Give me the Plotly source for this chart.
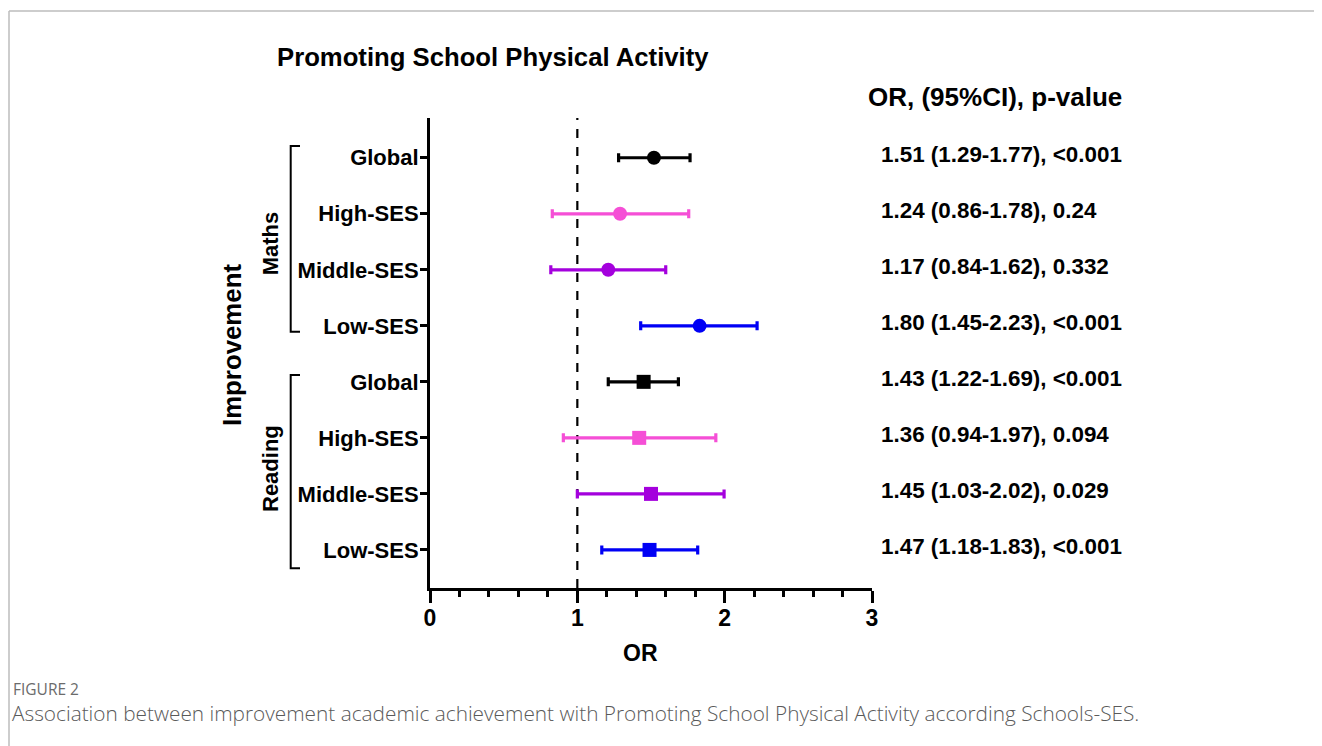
import plotly.graph_objects as go

# ---- data ----
categories = ["Global", "High-SES", "Middle-SES", "Low-SES",
              "Global", "High-SES", "Middle-SES", "Low-SES"]
groups = ["Maths", "Maths", "Maths", "Maths",
          "Reading", "Reading", "Reading", "Reading"]
or_plot = [1.52, 1.29, 1.21, 1.83, 1.45, 1.42, 1.50, 1.49]
ci_low = [1.28, 0.83, 0.82, 1.43, 1.21, 0.905, 1.00, 1.166]
ci_high = [1.765, 1.756, 1.60, 2.22, 1.686, 1.94, 1.996, 1.817]
colors = ["#000000", "#F54FD6", "#A400DD", "#0000F5",
          "#000000", "#F54FD6", "#A400DD", "#0000F5"]
symbols = ["circle"] * 4 + ["square"] * 4
result_text = ["1.51 (1.29-1.77), <0.001", "1.24 (0.86-1.78), 0.24",
               "1.17 (0.84-1.62), 0.332", "1.80 (1.45-2.23), <0.001",
               "1.43 (1.22-1.69), <0.001", "1.36 (0.94-1.97), 0.094",
               "1.45 (1.03-2.02), 0.029", "1.47 (1.18-1.83), <0.001"]
x_ticks = [0, 1, 2, 3]

FONT = "Liberation Sans, Arial, sans-serif"
CAP_FONT = "Open Sans, sans-serif"
OFF = 8  # page body margin
SW, SH = 1322, 746  # screen size
W, H = SW - OFF, SH - OFF
L, R, T, B = 430, 872, 118, 588  # plot area in screen pixels


def px(x):
    return (x - L) / (R - L)


def py(y):
    return (B - y) / (B - T)


fig = go.Figure()
for i in range(len(categories)):
    fig.add_trace(go.Scatter(
        x=[or_plot[i]], y=[i], mode="markers",
        marker=dict(color=colors[i], size=14, symbol=symbols[i],
                    line=dict(width=0)),
        error_x=dict(type="data", symmetric=False,
                     array=[ci_high[i] - or_plot[i]],
                     arrayminus=[or_plot[i] - ci_low[i]],
                     color=colors[i], thickness=3.2, width=4.5),
        showlegend=False, cliponaxis=False,
    ))

shapes = []
shapes.append(dict(type="line", xref="x", yref="paper", x0=1, x1=1, y0=0, y1=1,
                   line=dict(color="black", width=2.2, dash="dash"), layer="below"))
for (y0, y1) in [(146, 331.7), (375, 568.3)]:
    xb, xs = px(290.7), px(300)
    shapes.append(dict(type="path", xref="paper", yref="paper",
                       path=f"M {xs} {py(y0)} L {xb} {py(y0)} L {xb} {py(y1)} L {xs} {py(y1)}",
                       line=dict(color="black", width=2)))
shapes.append(dict(type="line", xref="paper", yref="paper",
                   x0=px(9), x1=px(1330), y0=py(11), y1=py(11),
                   line=dict(color="#bdbdbd", width=1.5)))
shapes.append(dict(type="line", xref="paper", yref="paper",
                   x0=px(9), x1=px(9), y0=py(11), y1=py(760),
                   line=dict(color="#bdbdbd", width=1.5)))

ann = []
for i, t in enumerate(result_text):
    ann.append(dict(text=f"<b>{t}</b>", xref="paper", yref="y", x=px(879), y=i,
                    yshift=3, xanchor="left", yanchor="middle", showarrow=False,
                    font=dict(family=FONT, size=22.4, color="black")))
ann.append(dict(text="<b>Promoting School Physical Activity</b>", xref="paper", yref="paper",
                x=px(492.5), y=py(57), xanchor="center", yanchor="middle", showarrow=False,
                font=dict(family=FONT, size=25.7, color="black")))
ann.append(dict(text="<b>OR, (95%CI), p-value</b>", xref="paper", yref="paper",
                x=px(994.5), y=py(97), xanchor="center", yanchor="middle", showarrow=False,
                font=dict(family=FONT, size=26, color="black")))
ann.append(dict(text="<b>Maths</b>", xref="paper", yref="paper", textangle=-90,
                x=px(270), y=py(243.3), xanchor="center", yanchor="middle", showarrow=False,
                font=dict(family=FONT, size=22, color="black")))
ann.append(dict(text="<b>Reading</b>", xref="paper", yref="paper", textangle=-90,
                x=px(270), y=py(469), xanchor="center", yanchor="middle", showarrow=False,
                font=dict(family=FONT, size=22, color="black")))
ann.append(dict(text="<b>Improvement</b>", xref="paper", yref="paper", textangle=-90,
                x=px(232), y=py(345), xanchor="center", yanchor="middle", showarrow=False,
                font=dict(family=FONT, size=25.8, color="black")))
ann.append(dict(text="<b>OR</b>", xref="paper", yref="paper",
                x=px(640), y=py(653), xanchor="center", yanchor="middle", showarrow=False,
                font=dict(family=FONT, size=23, color="black")))
ann.append(dict(text="FIGURE 2", xref="paper", yref="paper",
                x=px(11), y=py(689), xanchor="left", yanchor="middle", showarrow=False,
                font=dict(family=CAP_FONT, size=15.5, color="#6b6b6b")))
ann.append(dict(text="Association between improvement academic achievement with Promoting School Physical Activity according Schools-SES.",
                xref="paper", yref="paper",
                x=px(10), y=py(713), xanchor="left", yanchor="middle", showarrow=False,
                font=dict(family=CAP_FONT, size=20.8, color="#5a5a5a", weight=300)))

fig.update_layout(
    width=W, height=H,
    margin=dict(l=L - OFF, r=W - (R - OFF), t=T - OFF, b=H - (B - OFF), pad=0),
    paper_bgcolor="white", plot_bgcolor="white",
    shapes=shapes, annotations=ann,
    xaxis=dict(range=[0, 3], tickvals=x_ticks, ticktext=[f"<b>{v}</b>" for v in x_ticks],
               showgrid=False, zeroline=False, showline=True, linecolor="black", linewidth=3,
               ticks="outside", ticklen=12, tickwidth=2.5, tickcolor="black",
               ticklabelstandoff=-5,
               tickfont=dict(family=FONT, size=23, color="black"),
               minor=dict(dtick=0.2, tick0=0, ticks="outside", ticklen=6, tickwidth=2.5,
                          tickcolor="black", showgrid=False)),
    yaxis=dict(range=[7.68, -0.71], tickvals=list(range(len(categories))),
               ticktext=[f"<b>{c}</b>" for c in categories],
               showgrid=False, zeroline=False, showline=True, linecolor="black", linewidth=3,
               ticks="outside", ticklen=7, tickwidth=2.5, tickcolor="black",
               ticklabelstandoff=-3,
               tickfont=dict(family=FONT, size=22, color="black")),
)

fig.write_html("out.html")
